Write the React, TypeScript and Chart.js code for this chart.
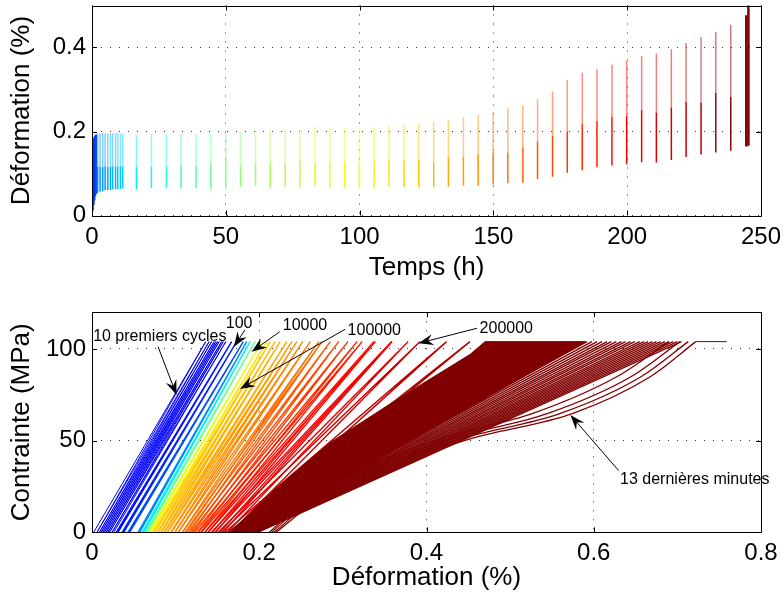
import React, { useEffect, useRef } from "react";
import { Chart, registerables } from "chart.js";

Chart.register(...registerables);

const FONT = '"Liberation Sans", Arial, Helvetica, sans-serif';

// ================= Top panel: strain vs time =================
const creepTimes = [
  0.1, 0.4, 0.7, 1.0, 1.3, 1.6,
  2.1, 3.0, 4.0, 4.9, 5.9, 6.9, 7.7, 8.8, 9.6, 10.6, 11.5,
  16.6, 22.2, 27.8, 33.3, 38.9, 44.4, 50.0, 55.5, 61.1, 66.6,
  72.2, 77.7, 83.3, 88.9, 94.4, 99.9, 105.4, 111.0, 116.6, 122.1,
  127.7, 133.2, 138.8, 144.3, 149.9, 155.4, 161.0, 166.5, 172.1, 177.6,
  183.2, 188.7, 194.3, 199.8, 205.4, 210.9, 216.5, 222.0, 227.6, 233.1,
  238.7, 244.5, 245.3,
];
const creepMin = [
  0.000, 0.012, 0.025, 0.036, 0.046, 0.051,
  0.054, 0.057, 0.058, 0.060, 0.061, 0.061, 0.062, 0.062, 0.063, 0.063, 0.064,
  0.062, 0.065, 0.065, 0.065, 0.065, 0.063, 0.064, 0.069, 0.071, 0.066,
  0.069, 0.066, 0.070, 0.066, 0.066, 0.065, 0.066, 0.069, 0.067, 0.067,
  0.067, 0.069, 0.071, 0.071, 0.074, 0.077, 0.078, 0.087, 0.092, 0.102,
  0.108, 0.115, 0.119, 0.122, 0.127, 0.126, 0.132, 0.139, 0.145, 0.150,
  0.154, 0.164, 0.166,
];
const creepMid = [
  0.090, 0.100, 0.110, 0.115, 0.117, 0.117,
  0.117, 0.116, 0.116, 0.117, 0.116, 0.116, 0.117, 0.116, 0.116, 0.117, 0.116,
  0.116, 0.116, 0.116, 0.118, 0.118, 0.120, 0.132, 0.119, 0.122, 0.124,
  0.125, 0.130, 0.124, 0.128, 0.126, 0.128, 0.130, 0.134, 0.131, 0.133,
  0.127, 0.138, 0.140, 0.144, 0.150, 0.150, 0.162, 0.176, 0.190, 0.200,
  0.217, 0.225, 0.235, 0.237, 0.251, 0.245, 0.257, 0.270, 0.269, 0.292,
  0.283, 0.477, 0.520,
];
const creepMax = [
  0.172, 0.180, 0.186, 0.190, 0.192, 0.193,
  0.195, 0.195, 0.196, 0.196, 0.196, 0.196, 0.196, 0.196, 0.196, 0.196, 0.196,
  0.192, 0.194, 0.194, 0.194, 0.194, 0.194, 0.198, 0.199, 0.203, 0.203,
  0.205, 0.205, 0.211, 0.208, 0.209, 0.207, 0.210, 0.214, 0.215, 0.219,
  0.223, 0.227, 0.234, 0.239, 0.246, 0.255, 0.262, 0.277, 0.295, 0.323,
  0.340, 0.348, 0.359, 0.369, 0.380, 0.385, 0.396, 0.411, 0.425, 0.437,
  0.454, 0.477, 0.520,
];
const timeTicks = [0, 50, 100, 150, 200, 250];
const topStrainTicks = [0, 0.2, 0.4];

// ================= Bottom panel: stress vs strain =================
const peakStress = 104;
const firstCycleStart = [0.002, 0.006, 0.009, 0.011, 0.013, 0.015, 0.017, 0.019, 0.021, 0.024];
const firstCycleTip = [0.136, 0.140, 0.143, 0.146, 0.148, 0.150, 0.152, 0.155, 0.157, 0.160];
const firstCycleEnd = [0.006, 0.009, 0.011, 0.013, 0.015, 0.017, 0.019, 0.021, 0.024, 0.026];

const cycleStart = [
  0.029, 0.036, 0.043, 0.055, 0.060, 0.064, 0.068, 0.072, 0.075, 0.079,
  0.083, 0.087, 0.090, 0.095, 0.099, 0.103, 0.108, 0.111, 0.115, 0.119,
  0.123, 0.127, 0.131, 0.135, 0.139, 0.143, 0.147, 0.151, 0.155, 0.159, 0.163,
];
const cycleTip = [
  0.167, 0.173, 0.181, 0.185, 0.189, 0.195, 0.203, 0.209, 0.213, 0.219,
  0.225, 0.233, 0.239, 0.245, 0.252, 0.261, 0.271, 0.275, 0.285, 0.295,
  0.306, 0.317, 0.323, 0.337, 0.339, 0.358, 0.359, 0.378, 0.392, 0.424, 0.452,
];
const cycleEnd = [
  0.031, 0.038, 0.045, 0.057, 0.062, 0.066, 0.070, 0.074, 0.078, 0.082,
  0.086, 0.090, 0.094, 0.099, 0.103, 0.108, 0.113, 0.117, 0.121, 0.126,
  0.130, 0.135, 0.139, 0.144, 0.148, 0.153, 0.157, 0.162, 0.166, 0.171, 0.175,
];

// last 13 minutes: dense core outline, fan of cycles, and final large loops
const coreStrain = [0.165, 0.225, 0.285, 0.370, 0.452, 0.470, 0.590, 0.188];
const coreStress = [0, 26, 49, 74, 97, 104, 104, 0];
const fanStart = [0.175, 0.176, 0.177, 0.178, 0.179, 0.180, 0.181, 0.182, 0.183, 0.184, 0.185, 0.186, 0.187, 0.188, 0.189, 0.190, 0.191, 0.192, 0.193, 0.194, 0.195, 0.196, 0.197, 0.198];
const fanTip = [0.580, 0.586, 0.592, 0.598, 0.604, 0.610, 0.616, 0.621, 0.627, 0.633, 0.638, 0.644, 0.649, 0.655, 0.660, 0.665, 0.670, 0.675, 0.680, 0.685, 0.690, 0.695, 0.700, 0.705];
const lastStressLevels = [0, 20, 50, 65, 85, 104];
const lastAt0 = [0.212, 0.215, 0.218, 0.220];
const lastAt20 = [0.262, 0.266, 0.271, 0.277];
const lastAt50 = [0.410, 0.422, 0.434, 0.445];
const lastAt65 = [0.528, 0.546, 0.561, 0.576];
const lastAt85 = [0.628, 0.645, 0.657, 0.668];
const lastAtPeak = [0.690, 0.703, 0.713, 0.722];
const finalCreepStrain = [0.722, 0.759];

const bottomStrainTicks = [0, 0.2, 0.4, 0.6, 0.8];
const stressTicks = [0, 50, 100];

const annotations = [
  { text: "10 premiers cycles", tx: 0.0811, ty: 106.9, from: [0.079, 101.2], to: [0.1011, 74.9] },
  { text: "100", tx: 0.1759, ty: 113.6, from: [0.1829, 110.4], to: [0.1697, 101.2] },
  { text: "10000", tx: 0.2547, ty: 112.8, from: [0.2245, 109.4], to: [0.1909, 98.5] },
  { text: "100000", tx: 0.3376, ty: 109.9, from: [0.3026, 110.7], to: [0.1769, 78.2] },
  { text: "200000", tx: 0.4954, ty: 110.9, from: [0.4604, 111.3], to: [0.3904, 103.1] },
  { text: "13 dernières minutes", tx: 0.7208, ty: 28.5, from: [0.6299, 33.6], to: [0.5721, 64.0] },
];

// ================= styling helpers =================
function jet(v: number): number[] {
  const c = (x: number) => Math.max(0, Math.min(1, x));
  return [c(1.5 - Math.abs(4 * v - 3)), c(1.5 - Math.abs(4 * v - 2)), c(1.5 - Math.abs(4 * v - 1))].map((x) =>
    Math.round(x * 255)
  );
}
function piecewise(stops: number[][], x: number) {
  if (x <= stops[0][0]) return stops[0][1];
  for (let i = 1; i < stops.length; i++) {
    if (x <= stops[i][0]) {
      const [x0, y0] = stops[i - 1];
      const [x1, y1] = stops[i];
      return y0 + ((y1 - y0) * (x - x0)) / (x1 - x0);
    }
  }
  return stops[stops.length - 1][1];
}
const timeShadeStops = [[0, 0.15], [1.6, 0.2], [2.1, 0.26], [11.5, 0.33], [16.6, 0.36], [50, 0.5], [100, 0.625], [150, 0.75], [200, 0.875], [245.3, 1.0]];
const cycleShadeStops = [[0, 0.14], [1, 0.16], [2, 0.2], [3, 0.26], [4, 0.36], [5, 0.48], [6, 0.6], [7, 0.65], [8, 0.68], [16, 0.76], [22, 0.85], [27, 0.9], [30, 0.95]];
const rgba = (c: number[], a = 1) => `rgba(${c[0]},${c[1]},${c[2]},${a})`;
const DARK = "#800000";

function seg(data: any[], color: string, width: number, extra: any = {}) {
  return {
    data,
    showLine: true,
    borderColor: color,
    backgroundColor: color,
    borderWidth: width,
    pointRadius: 0,
    pointHoverRadius: 0,
    tension: 0,
    fill: false,
    borderCapStyle: "butt",
    ...extra,
  };
}

const framePlugin = {
  id: "frame",
  afterDraw(chart: any) {
    const { ctx, chartArea: a, scales } = chart;
    const L = 5;
    const r = (v: number) => Math.round(v) + 0.5;
    ctx.save();
    ctx.strokeStyle = "#000";
    ctx.lineWidth = 1;
    ctx.beginPath();
    ctx.rect(r(a.left), r(a.top), Math.round(a.right) - Math.round(a.left), Math.round(a.bottom) - Math.round(a.top));
    scales.x.ticks.forEach((t: any) => {
      const p = r(scales.x.getPixelForValue(t.value));
      ctx.moveTo(p, a.bottom);
      ctx.lineTo(p, a.bottom - L);
      ctx.moveTo(p, a.top);
      ctx.lineTo(p, a.top + L);
    });
    scales.y.ticks.forEach((t: any) => {
      const p = r(scales.y.getPixelForValue(t.value));
      ctx.moveTo(a.left, p);
      ctx.lineTo(a.left + L, p);
      ctx.moveTo(a.right, p);
      ctx.lineTo(a.right - L, p);
    });
    ctx.stroke();
    ctx.restore();
  },
};

const annotationPlugin = {
  id: "arrows",
  afterDatasetsDraw(chart: any) {
    const { ctx, scales } = chart;
    const px = (v: number) => scales.x.getPixelForValue(v);
    const py = (v: number) => scales.y.getPixelForValue(v);
    ctx.save();
    annotations.forEach((an) => {
      const x0 = px(an.from[0]), y0 = py(an.from[1]);
      const x1 = px(an.to[0]), y1 = py(an.to[1]);
      const dx = x1 - x0, dy = y1 - y0;
      const len = Math.hypot(dx, dy);
      const ux = dx / len, uy = dy / len;
      const nx = -uy, ny = ux;
      const HL = 15, HW = 5.5;
      ctx.strokeStyle = "#000";
      ctx.lineWidth = 1;
      ctx.beginPath();
      ctx.moveTo(x0, y0);
      ctx.lineTo(x1 - ux * HL * 0.6, y1 - uy * HL * 0.6);
      ctx.stroke();
      ctx.fillStyle = "#000";
      ctx.beginPath();
      ctx.moveTo(x1, y1);
      ctx.lineTo(x1 - ux * HL + nx * HW, y1 - uy * HL + ny * HW);
      ctx.lineTo(x1 - ux * HL * 0.65, y1 - uy * HL * 0.65);
      ctx.lineTo(x1 - ux * HL - nx * HW, y1 - uy * HL - ny * HW);
      ctx.closePath();
      ctx.fill();
      ctx.font = `16px ${FONT}`;
      ctx.textAlign = "center";
      ctx.textBaseline = "middle";
      ctx.fillText(an.text, px(an.tx), py(an.ty));
    });
    ctx.restore();
  },
};

function axis(min: number, max: number, ticks: number[], title: string, isX: boolean, fitSize: number) {
  return {
    type: "linear",
    min,
    max,
    afterBuildTicks: (s: any) => {
      s.ticks = ticks.map((v) => ({ value: v }));
    },
    afterFit: (s: any) => {
      if (isX) {
        s.height = fitSize;
        s.paddingLeft = 0;
        s.paddingRight = 0;
      } else {
        s.width = fitSize;
        s.paddingTop = 0;
        s.paddingBottom = 0;
      }
    },
    grid: { color: "#333", lineWidth: 1, drawTicks: false },
    border: { display: false, dash: [1, 8] },
    ticks: {
      color: "#000",
      font: { family: FONT, size: 24 },
      padding: isX ? 7 : 6,
      callback: (v: any) => String(v),
    },
    title: {
      display: true,
      text: title,
      color: "#000",
      font: { family: FONT, size: 26 },
      padding: isX ? { top: 0, bottom: 9 } : { top: 6, bottom: 0 },
    },
  };
}

function topConfig(): any {
  const datasets: any[] = [];
  creepTimes.forEach((t, i) => {
    const c = jet(piecewise(timeShadeStops, t));
    const w = t > 244 ? 2.5 : 1.5;
    datasets.push(seg([{ x: t, y: creepMin[i] }, { x: t, y: creepMid[i] }], rgba(c), w));
    if (creepMax[i] > creepMid[i]) {
      datasets.push(seg([{ x: t, y: creepMid[i] }, { x: t, y: creepMax[i] }], rgba(c, t < 2 ? 1 : 0.5), w));
    }
  });
  datasets.reverse();
  return {
    type: "scatter",
    data: { datasets },
    options: {
      responsive: false,
      animation: false,
      events: [],
      layout: { padding: { left: 0, right: 23, top: 5.5, bottom: 0 } },
      plugins: { legend: { display: false }, tooltip: { enabled: false } },
      scales: {
        x: axis(0, 250, timeTicks, "Temps (h)", true, 76.5),
        y: axis(0, 0.5, topStrainTicks, "Déformation (%)", false, 92),
      },
    },
    plugins: [framePlugin],
  };
}

function bottomConfig(): any {
  const paint: any[] = [];
  firstCycleStart.forEach((s, i) => {
    paint.push(seg([{ x: s, y: 0 }, { x: firstCycleTip[i], y: peakStress }, { x: firstCycleEnd[i], y: 0 }], "#0000ff", 1));
  });
  cycleStart.forEach((s, i) => {
    const c = rgba(jet(piecewise(cycleShadeStops, i)));
    paint.push(seg([{ x: s, y: 0 }, { x: cycleTip[i], y: peakStress }, { x: cycleEnd[i], y: 0 }], c, 1.4));
  });
  const core = coreStrain.map((s, i) => ({ x: s, y: coreStress[i] }));
  paint.push(seg(core, DARK, 1, { fill: "shape", backgroundColor: DARK }));
  fanStart.forEach((s, i) => {
    paint.push(seg([{ x: s, y: 0 }, { x: fanTip[i], y: peakStress }], DARK, 1.4));
  });
  lastAt0.forEach((_, i) => {
    const pts = [lastAt0[i], lastAt20[i], lastAt50[i], lastAt65[i], lastAt85[i], lastAtPeak[i]].map((x, k) => ({ x, y: lastStressLevels[k] }));
    paint.push(seg(pts, DARK, 1.3, { cubicInterpolationMode: "monotone" }));
  });
  paint.push(seg(finalCreepStrain.map((x) => ({ x, y: peakStress })), DARK, 1));
  paint.reverse();
  return {
    type: "scatter",
    data: { datasets: paint },
    options: {
      responsive: false,
      animation: false,
      events: [],
      layout: { padding: { left: 0, right: 23, top: 20.3, bottom: 0 } },
      plugins: { legend: { display: false }, tooltip: { enabled: false } },
      scales: {
        x: axis(0, 0.8, bottomStrainTicks, "Déformation (%)", true, 69.7),
        y: axis(0, 120, stressTicks, "Contrainte (MPa)", false, 92),
      },
    },
    plugins: [framePlugin, annotationPlugin],
  };
}

export default function App() {
  const topRef = useRef<HTMLCanvasElement>(null);
  const botRef = useRef<HTMLCanvasElement>(null);
  useEffect(() => {
    const c1 = new Chart(topRef.current as HTMLCanvasElement, topConfig());
    const c2 = new Chart(botRef.current as HTMLCanvasElement, bottomConfig());
    return () => {
      c1.destroy();
      c2.destroy();
    };
  }, []);
  return (
    <div style={{ position: "absolute", left: 0, top: 0, width: 784, height: 602, background: "#fff" }}>
      <canvas ref={topRef} width={784} height={292} style={{ position: "absolute", left: 0, top: 0 }} />
      <canvas ref={botRef} width={784} height={310} style={{ position: "absolute", left: 0, top: 292 }} />
    </div>
  );
}
